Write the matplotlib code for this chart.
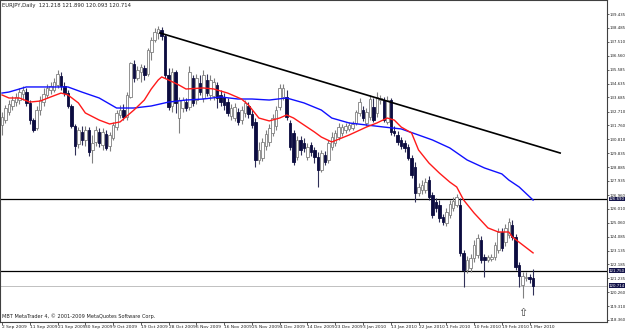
import numpy as np
import matplotlib
matplotlib.use('Agg')
import matplotlib.pyplot as plt
import matplotlib.transforms as mtransforms

plt.rcParams['font.family'] = ['Liberation Sans Narrow', 'DejaVu Sans']

#----------------------- data (EURJPY daily) -----------------------
opens = [131.79, 132.13, 132.69, 133.10, 133.37, 133.51, 133.93, 134.06, 133.31, 132.13,
         131.58, 132.82, 133.37, 133.86, 134.20, 134.20, 134.54, 135.16, 134.48, 133.99,
         133.10, 131.72, 130.48, 131.31, 130.76, 131.45, 130.07, 130.62, 131.31, 130.41,
         131.17, 130.34, 130.90, 131.65, 132.48, 132.82, 132.34, 133.72, 135.99, 135.03,
         135.44, 135.72, 135.30, 136.82, 137.64, 138.13, 138.33, 137.92, 135.23, 133.10,
         135.44, 132.27, 132.96, 133.37, 133.03, 135.03, 133.51, 134.68, 133.65, 134.89,
         133.86, 133.79, 134.54, 133.86, 133.72, 133.37, 132.41, 132.27, 132.69, 132.13,
         132.62, 133.10, 132.55, 132.00, 129.38, 129.52, 130.34, 130.62, 131.24, 131.72,
         133.03, 133.72, 133.72, 131.93, 131.24, 129.59, 130.76, 130.55, 129.59, 130.41,
         130.07, 129.59, 128.69, 129.72, 129.38, 130.28, 130.55, 130.96, 131.24, 131.45,
         131.52, 131.58, 131.93, 132.62, 132.82, 131.93, 132.34, 133.03, 132.62, 133.51,
         133.51, 132.00, 133.51, 131.38, 131.10, 130.76, 130.55, 130.28, 129.52, 128.90,
         127.11, 127.31, 127.31, 128.00, 126.97, 126.49, 126.28, 125.45, 125.04, 125.59,
         126.07, 126.28, 126.28, 122.98, 121.80, 121.94, 122.63, 122.84, 123.87, 122.70,
         122.49, 122.56, 122.70, 123.18, 124.42, 123.73, 124.21, 124.90, 124.08, 122.15,
         120.77, 121.25, 121.32, 121.218]
highs = [132.69, 133.17, 133.51, 133.79, 133.99, 134.34, 134.48, 134.34, 133.51, 132.27,
         133.10, 133.79, 134.34, 134.61, 134.75, 135.03, 135.58, 135.44, 134.75, 134.20,
         133.24, 131.86, 131.65, 131.72, 131.72, 131.65, 131.10, 131.72, 131.58, 131.58,
         131.45, 131.31, 132.00, 132.82, 133.17, 133.24, 134.06, 136.13, 136.27, 135.85,
         135.99, 135.92, 137.09, 137.85, 138.47, 138.61, 138.54, 138.06, 135.72, 135.72,
         135.58, 133.72, 133.72, 133.65, 135.85, 135.23, 135.30, 135.23, 135.58, 135.30,
         135.23, 135.03, 134.75, 134.20, 133.99, 133.65, 133.24, 133.31, 132.96, 133.10,
         133.51, 133.37, 132.82, 132.27, 130.62, 130.90, 131.45, 131.86, 132.55, 133.10,
         134.61, 134.61, 134.20, 132.13, 131.45, 131.03, 131.03, 130.90, 130.55, 130.62,
         130.28, 129.93, 130.07, 130.00, 130.76, 131.31, 131.45, 131.93, 131.86, 131.93,
         132.00, 132.07, 132.82, 133.65, 133.10, 132.96, 133.86, 133.65, 134.06, 133.86,
         133.72, 133.79, 133.65, 131.72, 131.38, 130.96, 130.76, 130.48, 129.72, 129.24,
         127.80, 128.00, 128.14, 128.28, 127.18, 126.76, 126.62, 125.66, 126.07, 126.62,
         126.83, 127.04, 126.76, 123.18, 122.77, 122.91, 123.87, 124.28, 124.15, 122.91,
         122.84, 122.91, 123.73, 124.70, 124.70, 124.97, 125.39, 125.25, 124.28, 122.36,
         121.67, 121.67, 121.53, 121.890]
lows = [131.10, 131.93, 132.48, 132.82, 133.10, 133.24, 133.51, 133.10, 131.86, 131.31,
        131.45, 132.48, 133.10, 133.65, 133.93, 134.06, 134.34, 134.20, 133.79, 132.96,
        131.58, 129.72, 130.21, 130.41, 130.34, 129.66, 129.17, 130.34, 130.28, 130.07,
        130.07, 130.00, 130.76, 131.45, 132.27, 132.13, 132.13, 133.65, 134.75, 134.89,
        134.75, 134.89, 135.16, 136.27, 137.51, 137.71, 137.64, 135.03, 132.82, 132.69,
        132.62, 131.24, 132.69, 132.75, 132.82, 133.10, 133.24, 133.86, 133.37, 133.79,
        133.51, 133.51, 132.96, 133.10, 132.82, 132.41, 132.13, 132.07, 131.79, 131.86,
        132.34, 132.27, 131.58, 128.90, 129.10, 129.31, 130.07, 130.34, 131.03, 131.45,
        132.82, 133.51, 132.13, 130.07, 129.04, 129.38, 129.72, 129.93, 129.38, 129.66,
        129.17, 127.52, 128.55, 129.04, 129.17, 130.07, 130.34, 130.76, 131.03, 131.24,
        131.38, 131.45, 131.79, 132.41, 132.07, 131.72, 132.13, 132.00, 132.34, 133.24,
        132.00, 131.86, 131.10, 131.03, 130.41, 130.14, 129.93, 129.38, 128.14, 126.49,
        126.90, 127.04, 127.11, 126.62, 125.39, 125.80, 125.11, 124.90, 124.83, 125.39,
        125.87, 126.14, 122.77, 120.63, 121.60, 121.67, 122.36, 122.63, 122.29, 121.32,
        122.36, 122.42, 122.49, 122.98, 123.11, 123.46, 124.01, 123.87, 121.80, 120.63,
        119.88, 121.05, 120.91, 120.093]
closes = [132.34, 132.96, 133.24, 133.51, 133.72, 134.06, 134.20, 133.31, 132.13, 131.45,
          132.82, 133.51, 133.93, 134.34, 134.48, 134.75, 135.30, 134.48, 133.99, 133.10,
          131.72, 130.34, 131.45, 130.76, 131.45, 129.93, 130.55, 131.45, 130.55, 131.31,
          130.21, 131.10, 131.79, 132.62, 132.82, 132.34, 133.86, 136.06, 135.03, 135.58,
          135.78, 135.23, 136.96, 137.64, 138.20, 138.40, 137.92, 135.23, 133.03, 135.44,
          133.31, 133.51, 133.51, 132.96, 135.44, 133.31, 135.03, 134.06, 135.23, 133.99,
          134.89, 134.75, 133.65, 133.37, 133.17, 132.62, 132.96, 133.03, 132.00, 132.82,
          133.31, 132.55, 131.79, 129.38, 130.07, 130.62, 131.17, 131.58, 132.27, 132.82,
          134.34, 134.34, 132.34, 130.28, 129.24, 130.76, 130.07, 130.21, 130.28, 129.93,
          129.59, 128.69, 129.86, 129.24, 130.55, 130.96, 131.24, 131.65, 131.65, 131.72,
          131.79, 131.86, 132.69, 133.37, 132.27, 132.69, 133.58, 132.13, 133.72, 133.65,
          132.13, 133.51, 131.31, 131.24, 130.62, 130.34, 130.21, 129.52, 128.35, 127.11,
          127.52, 127.66, 127.86, 126.83, 125.59, 126.07, 125.39, 125.11, 125.80, 126.35,
          126.56, 126.83, 122.98, 121.80, 122.49, 122.63, 123.53, 124.01, 122.49, 122.49,
          122.70, 122.70, 123.53, 124.42, 123.32, 124.70, 125.11, 124.08, 122.01, 121.39,
          121.39, 121.32, 121.18, 120.714]

# moving averages, sampled along the drawn curves (bar index, price)
ma_fast_bars = [0, 2, 5, 8, 11, 14, 17, 19, 22, 24, 28, 31, 34, 38, 41, 43, 45, 46, 48, 51,
                53, 58, 61, 65, 69, 71, 74, 77, 80, 82, 84, 87, 90, 92, 95, 100, 105, 108, 111,
                113, 115, 118, 120, 123, 126, 129, 131, 133, 136, 140, 143, 146, 147, 150, 153]
ma_fast = [133.86, 133.65, 133.65, 133.37, 133.44, 133.72, 133.99, 133.86, 133.31, 132.62,
           132.13, 131.86, 132.00, 132.82, 133.51, 134.27, 134.89, 135.10, 134.89, 134.54,
           134.27, 134.34, 134.27, 133.99, 133.58, 133.17, 132.27, 132.07, 132.27, 132.48,
           132.27, 131.79, 131.31, 130.96, 130.62, 131.10, 131.65, 131.93, 132.27, 132.13,
           131.65, 131.24, 130.07, 129.17, 128.48, 127.86, 127.52, 126.62, 125.73, 124.70,
           124.42, 124.42, 124.08, 123.53, 122.98]
ma_slow_bars = [0, 2, 7, 12, 19, 23, 28, 33, 38, 43, 48, 53, 58, 63, 68, 72, 77, 82, 87, 92,
                95, 100, 105, 110, 115, 120, 124, 129, 134, 139, 144, 146, 149, 153]
ma_slow = [133.99, 134.06, 134.41, 134.41, 134.41, 134.06, 133.65, 132.96, 132.96, 133.10,
           133.37, 133.51, 133.58, 133.72, 133.58, 133.58, 133.51, 133.65, 133.31, 132.82,
           132.27, 131.93, 131.79, 131.65, 131.52, 131.10, 130.76, 130.21, 129.38, 128.83,
           128.42, 128.00, 127.52, 126.62]

trend_bars = [45.5, 160.8]
trend_prices = [138.13, 129.86]
levels = [126.69, 121.75]
bid = 120.714

price_ticks = [139.435, 138.485, 137.510, 136.560, 135.585, 134.635, 133.685, 132.710,
               131.760, 130.810, 129.835, 128.885, 127.935, 126.960, 126.010, 125.060,
               124.085, 123.135, 122.185, 121.235, 120.260, 119.310, 118.360]
date_ticks = [0, 8, 16, 24, 32, 40, 48, 56, 64, 72, 80, 88, 96, 104, 112, 120, 128, 136, 144, 152]
date_labels = ['2 Sep 2009', '11 Sep 2009', '21 Sep 2009', '30 Sep 2009', '9 Oct 2009',
               '19 Oct 2009', '28 Oct 2009', '6 Nov 2009', '16 Nov 2009', '25 Nov 2009',
               '4 Dec 2009', '14 Dec 2009', '23 Dec 2009', '3 Jan 2010', '13 Jan 2010',
               '22 Jan 2010', '1 Feb 2010', '10 Feb 2010', '19 Feb 2010', '1 Mar 2010']
arrow_bar = 150
arrow_price = 118.84

#----------------------- figure -----------------------
fig = plt.figure(figsize=(6.25, 3.29), dpi=100, facecolor='white')
ax = fig.add_axes([0.0, 7 / 329, 607 / 625, 322 / 329])

o = np.array(opens); h = np.array(highs); l = np.array(lows); c = np.array(closes)
bars = np.arange(len(o))
up = c >= o
bear_col = '#0c0c40'
wick_col = '#808080'

ax.vlines(bars[up], l[up], h[up], color=wick_col, lw=0.8, zorder=2)
ax.vlines(bars[~up], l[~up], h[~up], color='#303058', lw=0.8, zorder=2)
ax.bar(bars[up], np.maximum(c[up] - o[up], 0.02), bottom=o[up], width=0.72,
       color='white', edgecolor=wick_col, lw=0.6, zorder=3)
ax.bar(bars[~up], o[~up] - c[~up], bottom=c[~up], width=0.72,
       color=bear_col, edgecolor=bear_col, lw=0.6, zorder=3)

# moving averages + objects
ax.plot(ma_slow_bars, ma_slow, color='#1010ff', lw=1.0, zorder=4)
ax.plot(ma_fast_bars, ma_fast, color='#ff1a1a', lw=1.0, zorder=4)
ax.plot(trend_bars, trend_prices, color='black', lw=1.2, zorder=5)
for lv in levels:
    ax.axhline(lv, color='black', lw=0.9, zorder=1)
ax.axhline(bid, color='#c0c0c0', lw=0.7, zorder=1)

ax.text(arrow_bar, arrow_price, '\u21e7', ha='center', va='center', fontsize=8,
        color='#404040', family='DejaVu Sans')

#----------------------- axes styling -----------------------
ax.set_xlim(-0.58, 174.3)
ax.set_ylim(118.22, 140.40)
ax.yaxis.tick_right()
ax.set_yticks(price_ticks)
ax.set_yticklabels(['%.3f' % v for v in price_ticks])
ax.set_xticks(date_ticks)
ax.set_xticklabels(date_labels, ha='left')
ax.tick_params(axis='y', labelsize=2.8, length=1.2, width=0.5, pad=0.3, colors='#202020')
ax.tick_params(axis='x', labelsize=3.2, length=2, width=0.5, pad=0.3, colors='#202020')
for s in ax.spines.values():
    s.set_linewidth(0.8)
    s.set_color('#404040')

# price boxes on the axis
trans = mtransforms.blended_transform_factory(ax.transAxes, ax.transData)
for v in levels + [bid]:
    ax.text(1.003, v, '%.3f' % v, transform=trans, ha='left', va='center', fontsize=2.8,
            color='white', clip_on=False, zorder=6,
            bbox=dict(boxstyle='square,pad=0.08', fc='#14144a', ec='none'))

ax.text(0.004, 0.992, 'EURJPY,Daily  121.218 121.890 120.093 120.714', transform=ax.transAxes,
        ha='left', va='top', fontsize=3.8, color='#202020')
ax.text(0.004, 0.008, 'MBT MetaTrader 4, \u00a9 2001-2009 MetaQuotes Software Corp.',
        transform=ax.transAxes, ha='left', va='bottom', fontsize=3.6, color='#202020')

fig.savefig('out.png', dpi=100, facecolor='white')
